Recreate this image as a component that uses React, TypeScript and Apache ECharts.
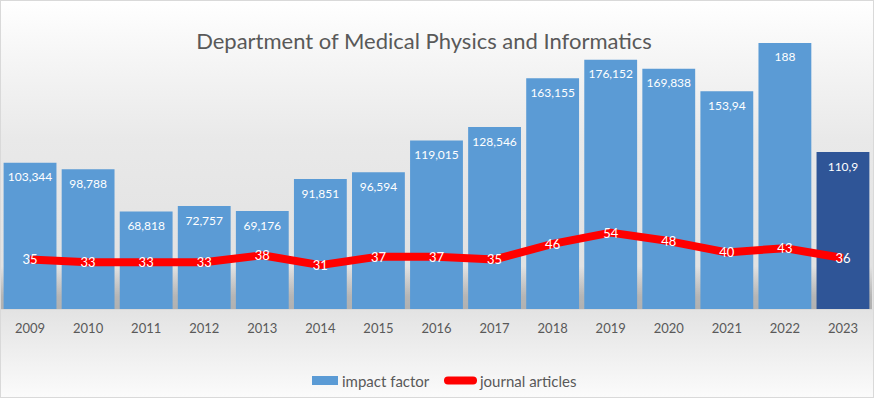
import React, { useEffect, useRef } from "react";
import * as echarts from "echarts";

const TITLE = "Department of Medical Physics and Informatics";
const years = ["2009", "2010", "2011", "2012", "2013", "2014", "2015", "2016", "2017", "2018", "2019", "2020", "2021", "2022", "2023"];
const impactFactor = [103.344, 98.788, 68.818, 72.757, 69.176, 91.851, 96.594, 119.015, 128.546, 163.155, 176.152, 169.838, 153.94, 188, 110.9];
const impactLabels = ["103,344", "98,788", "68,818", "72,757", "69,176", "91,851", "96,594", "119,015", "128,546", "163,155", "176,152", "169,838", "153,94", "188", "110,9"];
const journalArticles = [35, 33, 33, 33, 38, 31, 37, 37, 35, 46, 54, 48, 40, 43, 36];

const FONT = "Lato, 'Noto Sans', sans-serif";
const W = 874;
const H = 398;

export default function App() {
  const ref = useRef<HTMLDivElement>(null);
  useEffect(() => {
    document.body.style.margin = "0";
    if (!ref.current) return;
    const chart = echarts.init(ref.current, null, { renderer: "svg" });
    const lastIdx = years.length - 1;
    chart.setOption({
      animation: false,
      backgroundColor: "transparent",
      textStyle: { fontFamily: FONT },
      title: {
        text: TITLE,
        left: 419,
        textAlign: "center",
        top: 24,
        textStyle: { fontFamily: FONT, fontSize: 22, fontWeight: "normal", color: "#595959" },
      },
      legend: [
        {
          data: [{ name: "impact factor", icon: "rect" }],
          left: 307,
          top: 368,
          itemWidth: 26,
          itemHeight: 9,
          itemGap: 5,
          textStyle: { fontFamily: FONT, fontSize: 15, color: "#595959", padding: [0, 0, 0, -1] },
        },
        {
          data: [{ name: "journal articles", icon: "path://M4,0 L29,0 A4,4 0 0 1 29,8 L4,8 A4,4 0 0 1 4,0 Z", itemStyle: { color: "#ff0000" } }],
          left: 439,
          top: 368,
          itemWidth: 33,
          itemHeight: 8,
          textStyle: { fontFamily: FONT, fontSize: 15, color: "#595959", padding: [0, 0, 0, -2] },
        },
      ],
      graphic: [
        {
          type: "rect",
          z: 0,
          silent: true,
          shape: { x: 1, y: 266, width: 871, height: 43 },
          style: {
            fill: new echarts.graphic.LinearGradient(0, 0, 0, 1, [
              { offset: 0, color: "rgba(0,0,0,0)" },
              { offset: 0.7, color: "rgba(0,0,0,0.2)" },
              { offset: 1, color: "rgba(0,0,0,0.22)" },
            ]),
          },
        },
      ],
      grid: { left: 1, right: 2, top: 26, bottom: 89, containLabel: false },
      xAxis: {
        type: "category",
        data: years,
        axisLine: { show: true, lineStyle: { color: "#d9d9d9" } },
        axisTick: { show: false },
        axisLabel: { margin: 12, fontFamily: FONT, fontSize: 13, color: "#595959" },
      },
      yAxis: {
        type: "value",
        min: 0,
        max: 200,
        show: false,
        splitLine: { show: false },
      },
      series: [
        {
          name: "impact factor",
          type: "bar",
          barCategoryGap: "9%",
          z: 2,
          data: impactFactor.map((v, i) => ({
            value: v,
            itemStyle: { color: i === lastIdx ? "#2f5597" : "#5b9bd5" },
          })),
          itemStyle: { color: "#5b9bd5" },
          label: {
            show: true,
            position: "insideTop",
            distance: 8,
            fontFamily: FONT,
            fontSize: 12,
            color: "#ffffff",
            formatter: (p: any) => impactLabels[p.dataIndex],
          },
        },
        {
          name: "journal articles",
          type: "line",
          z: 3,
          data: journalArticles,
          symbol: "circle",
          symbolSize: 1,
          showSymbol: true,
          itemStyle: { color: "#ff0000" },
          lineStyle: { color: "#ff0000", width: 8 },
          label: {
            show: true,
            position: "inside",
            fontFamily: FONT,
            fontSize: 13,
            color: "#ffffff",
          },
        },
      ],
    });
    return () => chart.dispose();
  }, []);
  return (
    <div
      style={{
        position: "relative",
        width: W,
        height: H,
        background:
          "linear-gradient(to bottom, #ffffff 0%, #f7f7f7 12%, #e9e9e9 35%, #e2e2e2 65%, #e3e3e3 78%, #eeeeee 88%, #fbfbfb 100%)",
        boxShadow: "inset 0 0 0 1px #d9d9d9",
      }}
    >
      <div ref={ref} style={{ position: "absolute", left: 0, top: 0, width: W, height: H }} />
    </div>
  );
}
